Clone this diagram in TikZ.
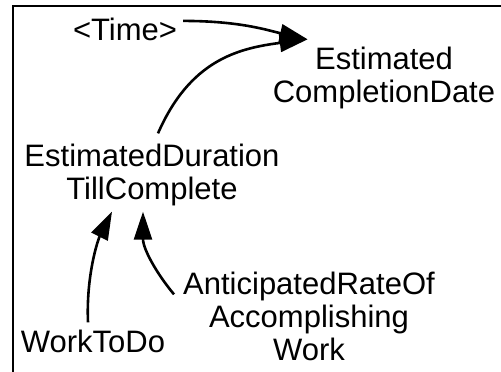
\documentclass[tikz,border=0pt]{standalone}
\usepackage{fontspec}
\setmainfont{Liberation Sans}
\usetikzlibrary{arrows.meta}

\begin{document}
\begin{tikzpicture}[
    x=1pt, y=-1pt,
    var/.style={font=\fontsize{31}{33}\selectfont, align=center, inner sep=2pt, anchor=base},
    link/.style={-{Triangle[length=28pt,width=18pt]}, line width=2.6pt},
    frame/.style={line width=1.3pt}
  ]
    \useasboundingbox (0,0) rectangle (501,372);
    \draw[frame] (13,372) -- (13,6) -- (501,6);

    \node[var] (time) at (125,40) {<Time>};
    \node[var] (cdate) at (384,102) {Estimated\\CompletionDate};
    \node[var] (duration) at (152,199) {EstimatedDuration\\TillComplete};
    \node[var] (rate) at (309,360) {AnticipatedRateOf\\Accomplishing\\Work};
    \node[var] (work) at (93,352) {WorkToDo};

    \draw[link] ([shift={(4,-8)}]time.east) .. controls +(57,0) and +(-40,-9) .. ([shift={(37,-5)}]cdate.north west);
    \draw[link] ([shift={(6,-8)}]duration.north) .. controls +(32,-73) and +(-70,9) .. ([shift={(37,-5)}]cdate.north west);
    \draw[link] ([shift={(-5,-5)}]work.north) .. controls +(-2,-47) and +(-14,28) .. ([shift={(-40,4)}]duration.south);
    \draw[link] ([shift={(-7,25)}]rate.north west) .. controls +(-16,-19) and +(0,38) .. ([shift={(-9,4)}]duration.south);
  \end{tikzpicture}
\end{document}
